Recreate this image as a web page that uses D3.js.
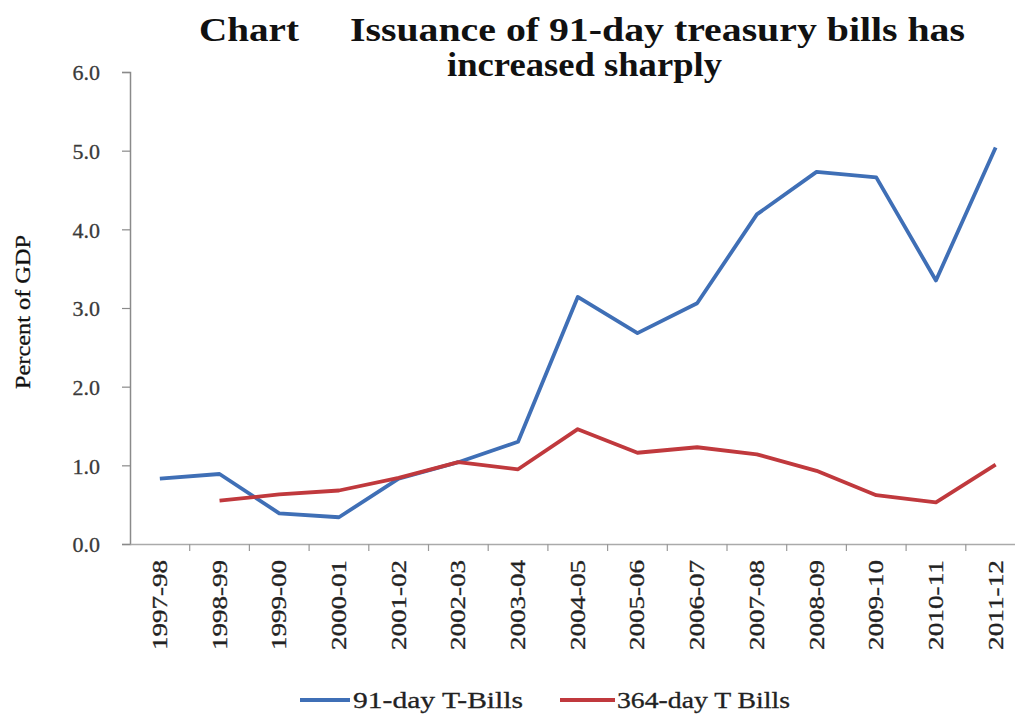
<!DOCTYPE html>
<html>
<head>
<meta charset="utf-8">
<script src="https://cdn.jsdelivr.net/npm/d3@7/dist/d3.min.js"></script>
<style>
  html, body { margin: 0; padding: 0; background: #fff; }
  svg { display: block; }
</style>
</head>
<body>
<svg id="chart" width="1015" height="718"></svg>
<script>
const categories = ["1997-98","1998-99","1999-00","2000-01","2001-02","2002-03","2003-04","2004-05","2005-06","2006-07","2007-08","2008-09","2009-10","2010-11","2011-12"];
const bills91 = [0.83, 0.89, 0.39, 0.34, 0.83, 1.04, 1.30, 3.14, 2.68, 3.06, 4.19, 4.73, 4.66, 3.35, 5.04];
const bills364 = [null, 0.55, 0.63, 0.68, 0.84, 1.04, 0.95, 1.46, 1.16, 1.23, 1.14, 0.93, 0.62, 0.53, 1.01];
const yTicks = [0, 1, 2, 3, 4, 5, 6];
const seriesNames = ["91-day T-Bills", "364-day T Bills"];
const seriesColors = ["#3f6fb6", "#c0393d"];

const svg = d3.select("#chart");
const serif = "Liberation Serif, Times New Roman, Tinos, serif";

const x = d3.scaleBand().domain(categories).range([130, 1025.5]).padding(0);
const y = d3.scaleLinear().domain([0, 6]).range([544, 72]);

// Title
const title = svg.append("g").style("font-family", serif).attr("font-weight", "bold").attr("font-size", 33).attr("fill", "#111");
title.append("text").attr("x", 199).attr("y", 41).attr("textLength", 100).attr("lengthAdjust", "spacingAndGlyphs").text("Chart");
title.append("text").attr("x", 350).attr("y", 41).attr("textLength", 615).attr("lengthAdjust", "spacingAndGlyphs").text("Issuance of 91-day treasury bills has");
title.append("text").attr("x", 447).attr("y", 76).attr("textLength", 275).attr("lengthAdjust", "spacingAndGlyphs").text("increased sharply");

// Y axis
const yAxis = svg.append("g").attr("transform", "translate(130,0)")
  .call(d3.axisLeft(y).tickValues(yTicks).tickFormat(d3.format(".1f")).tickSize(8).tickPadding(22));
yAxis.attr("font-family", null);
yAxis.select(".domain").attr("stroke", "#8a8a8a").attr("stroke-width", 1.5);
yAxis.selectAll(".tick line").attr("stroke", "#8a8a8a").attr("stroke-width", 1.2);
yAxis.selectAll(".tick text").style("font-family", serif).attr("font-size", 22).attr("fill", "#3a3a3a")
  .attr("stroke", "#3a3a3a").attr("stroke-width", 0.3).attr("dy", "0.35em");

// X axis
const xAxis = svg.append("g").attr("transform", "translate(0,544)")
  .call(d3.axisBottom(x).tickSize(0).tickPadding(0));
xAxis.attr("font-family", null);
xAxis.select(".domain").attr("stroke", "#aaa").attr("stroke-width", 1.5);
xAxis.selectAll(".tick text")
  .style("font-family", serif).attr("font-size", 20).attr("fill", "#222")
  .attr("stroke", "#222").attr("stroke-width", 0.3)
  .attr("text-anchor", "end")
  .attr("transform", "translate(0,16) rotate(-90)")
  .attr("x", 0).attr("y", 0).attr("dy", "0.35em")
  .attr("textLength", 90).attr("lengthAdjust", "spacingAndGlyphs");
// boundary tick marks
xAxis.selectAll(".bound").data(categories)
  .enter().append("line").attr("class", "bound")
  .attr("x1", d => x(d) + x.bandwidth())
  .attr("x2", d => x(d) + x.bandwidth())
  .attr("y1", 0).attr("y2", 7)
  .attr("stroke", "#999").attr("stroke-width", 1.2);

// Lines
const line = d3.line()
  .defined(d => d.v !== null)
  .x(d => x(d.c) + x.bandwidth() / 2)
  .y(d => y(d.v));

[bills91, bills364].forEach((vals, si) => {
  svg.append("path")
    .datum(vals.map((v, i) => ({ c: categories[i], v })))
    .attr("fill", "none")
    .attr("stroke", seriesColors[si])
    .attr("stroke-width", 3.8)
    .attr("stroke-linejoin", "round")
    .attr("d", line);
});

// Y label
svg.append("text")
  .attr("transform", "translate(30,312) rotate(-90)")
  .attr("text-anchor", "middle")
  .style("font-family", serif).attr("font-size", 22).attr("fill", "#111")
  .attr("stroke", "#111").attr("stroke-width", 0.3)
  .attr("textLength", 154).attr("lengthAdjust", "spacingAndGlyphs")
  .text("Percent of GDP");

// Legend
const legendX = [[300, 350, 353, 170], [560, 615, 617, 173]];
seriesNames.forEach((name, i) => {
  const [lx1, lx2, tx, tl] = legendX[i];
  svg.append("line").attr("x1", lx1).attr("x2", lx2).attr("y1", 700).attr("y2", 700)
    .attr("stroke", seriesColors[i]).attr("stroke-width", 4);
  svg.append("text").attr("x", tx).attr("y", 708)
    .style("font-family", serif).attr("font-size", 24).attr("fill", "#222")
    .attr("stroke", "#222").attr("stroke-width", 0.3)
    .attr("textLength", tl).attr("lengthAdjust", "spacingAndGlyphs")
    .text(name);
});
</script>
</body>
</html>
